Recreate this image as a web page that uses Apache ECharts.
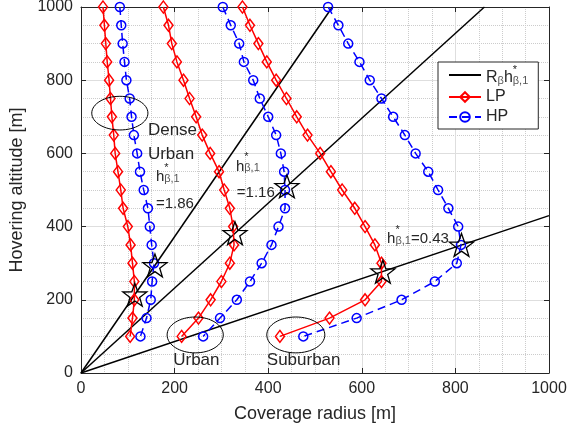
<!DOCTYPE html>
<html>
<head>
<meta charset="utf-8">
<script src="https://cdn.jsdelivr.net/npm/echarts@6/dist/echarts.min.js"></script>
<style>
  html, body { margin: 0; padding: 0; background: #fff; }
  #chart { width: 568px; height: 434px; }
</style>
</head>
<body>
<div id="chart"></div>
<script>
const FONT = "'Liberation Sans', Arial, sans-serif";
const INK = "#262626";

// hovering altitude [m], shared by every curve
const altitudes = [1000, 950, 900, 850, 800, 750, 700, 650, 600, 550, 500, 450, 400, 350, 300, 250, 200, 150, 100];

// coverage radius [m] per environment
const denseLP = [47, 50, 53, 56, 60, 63, 66, 70, 73, 79, 85, 90, 100, 106, 110, 114, 114, 110, 105];
const denseHP = [83, 86, 89, 93, 97, 104, 108, 113, 120, 126, 134, 143, 147, 151, 156, 152, 149, 140, 127];
const urbanLP = [176, 187, 194, 205, 219, 232, 246, 259, 276, 295, 306, 318, 325, 327, 318, 300, 277, 251, 215];
const urbanHP = [303, 320, 338, 348, 368, 382, 400, 417, 427, 434, 436, 436, 422, 407, 386, 361, 333, 297, 261];
const suburbanLP = [345, 361, 379, 397, 417, 439, 461, 484, 511, 534, 558, 585, 607, 628, 642, 642, 607, 531, 425];
const suburbanHP = [528, 550, 571, 595, 617, 642, 667, 692, 715, 742, 763, 785, 806, 812, 803, 756, 685, 589, 475];

// R = h / h*  lines, end points where they leave the box
const rayEndR = [537, 862, 1000];
const rayEndH = [1000, 1000, 430];

// optimum points (stars)
const starR = [115, 158, 329, 440, 645, 813];
const starH = [214, 294, 382, 510, 277, 350];

// annotations
const labelTexts = ["Dense", "Urban", "Urban", "Suburban"];
const labelR = [143, 143, 197, 397];
const labelH = [664, 598, 36, 36];
const hLabelR = [160, 331, 654];
const hLabelH = [546, 574, 377];
const hLabelTail = ["", "", "=0.43"];
const valueTexts = ["=1.86", "=1.16"];
const valueR = [160, 333];
const valueH = [462, 492];
const ellipseR = [83, 244, 459];
const ellipseH = [710, 104, 104];
const ellipseRx = [60, 60, 62];
const ellipseRy = [46, 49, 49];

// pentagram drawn near its final pixel size so the stroke is not scaled down
const STAR = "path://M12 0L14.82 8.12L23.41 8.29L16.56 13.48L19.05 21.71L12 16.8L4.95 21.71L7.44 13.48L0.59 8.29L9.18 8.12Z";
const CLEAR = "rgba(0,0,0,0)";

const richH = {
  m: { fontSize: 16, fontFamily: FONT, color: INK, lineHeight: 22, verticalAlign: "bottom" },
  p: { fontSize: 11, fontFamily: FONT, color: INK, lineHeight: 12, verticalAlign: "top", width: 0 },
  s: { fontSize: 11, fontFamily: FONT, color: "#555", lineHeight: 12, verticalAlign: "bottom" },
};

function curve(name, radii, color, symbol, size, dashed) {
  return {
    name,
    type: "line",
    data: radii.map((r, i) => [r, altitudes[i]]),
    symbol,
    symbolSize: size,
    showAllSymbol: true,
    lineStyle: { color, width: 1.5, type: dashed ? [8, 5] : "solid" },
    itemStyle: { color: CLEAR, borderColor: color, borderWidth: 1.5 },
    z: 3,
  };
}

function ray(i) {
  return {
    name: "Rh",
    type: "line",
    data: [[0, 0], [rayEndR[i], rayEndH[i]]],
    symbol: "circle",
    symbolSize: 1,
    showSymbol: false,
    lineStyle: { color: "#000", width: 1.5 },
    itemStyle: { color: CLEAR, borderColor: CLEAR, borderWidth: 0 },
    z: 2,
  };
}

function valueAxis(position, main) {
  return {
    type: "value",
    position,
    min: 0,
    max: 1000,
    interval: 200,
    axisLine: { show: true, onZero: false, lineStyle: { color: INK, width: 1 } },
    axisTick: { show: true, inside: true, length: 5, lineStyle: { color: INK } },
    minorTick: { show: false, splitNumber: 4 },
    axisLabel: { show: main, fontSize: 16, color: INK, fontFamily: FONT, margin: 8, formatter: (v) => String(v) },
    splitLine: { show: main, lineStyle: { color: "#dedede", width: 1 } },
    minorSplitLine: { show: main, lineStyle: { color: "#cccccc", width: 1, type: "dotted" } },
  };
}

const chart = echarts.init(document.getElementById("chart"));

const xMain = valueAxis("bottom", true);
xMain.name = "Coverage radius [m]";
xMain.nameLocation = "middle";
xMain.nameGap = 32;
xMain.nameTextStyle = { fontSize: 18, color: INK, fontFamily: FONT };

const yMain = valueAxis("left", true);
yMain.name = "Hovering altitude [m]";
yMain.nameLocation = "middle";
yMain.nameGap = 43;
yMain.nameTextStyle = { fontSize: 18, color: INK, fontFamily: FONT };

chart.setOption({
  animation: false,
  backgroundColor: "#fff",
  grid: { left: 81, right: 19, top: 7, bottom: 61, containLabel: false, outerBoundsMode: "none" },
  xAxis: [xMain, valueAxis("top", false)],
  yAxis: [yMain, valueAxis("right", false)],
  legend: {
    data: ["Rh", "LP", "HP"],
    orient: "vertical",
    left: 438,
    top: 62,
    backgroundColor: "#fff",
    borderColor: INK,
    borderWidth: 1,
    padding: [2, 10, 3, 10],
    itemGap: 2,
    itemWidth: 32,
    itemHeight: 12,
    formatter: (name) => (name === "Rh" ? "{m|R}{s|β}{m|h}{p|*}{s|β,1}" : name),
    textStyle: { fontSize: 16, color: INK, fontFamily: FONT, lineHeight: 18, rich: richH },
  },
  series: [
    ray(0), ray(1), ray(2),
    curve("LP", denseLP, "#ff0000", "diamond", [9, 12], false),
    curve("LP", urbanLP, "#ff0000", "diamond", [9, 12], false),
    curve("LP", suburbanLP, "#ff0000", "diamond", [9, 12], false),
    curve("HP", denseHP, "#0000ff", "circle", 9, true),
    curve("HP", urbanHP, "#0000ff", "circle", 9, true),
    curve("HP", suburbanHP, "#0000ff", "circle", 9, true),
    {
      name: "opt",
      type: "scatter",
      data: starR.map((r, i) => [r, starH[i]]),
      symbol: STAR,
      symbolSize: 24,
      symbolKeepAspect: true,
      itemStyle: { color: CLEAR, borderColor: "#000", borderWidth: 1.3, opacity: 1 },
      z: 5,
    },
  ],
});

// annotations placed from data coordinates
const toPx = (r, h) => chart.convertToPixel({ gridIndex: 0 }, [r, h]);
const graphics = [];

labelTexts.forEach((t, i) => {
  const [x, y] = toPx(labelR[i], labelH[i]);
  graphics.push({
    type: "text", x, y, z: 10,
    style: { text: t, fill: INK, fontSize: 17, fontFamily: FONT, align: "left", verticalAlign: "middle" },
  });
});

hLabelR.forEach((r, i) => {
  const [x, y] = toPx(r, hLabelH[i]);
  const tail = hLabelTail[i] ? "{m|" + hLabelTail[i] + "}" : "";
  graphics.push({
    type: "text", x, y, z: 10,
    style: {
      text: "{m|h}{p|*}{s|β,1}" + tail,
      rich: {
        m: { fontSize: 15, fontFamily: FONT, fill: INK, lineHeight: 22, verticalAlign: "bottom" },
        p: { fontSize: 11, fontFamily: FONT, fill: INK, lineHeight: 12, verticalAlign: "top", width: 0 },
        s: { fontSize: 11, fontFamily: FONT, fill: "#555", lineHeight: 12, verticalAlign: "bottom" },
      },
      align: "left",
      verticalAlign: "middle",
    },
  });
});

valueTexts.forEach((t, i) => {
  const [x, y] = toPx(valueR[i], valueH[i]);
  graphics.push({
    type: "text", x, y, z: 10,
    style: { text: t, fill: INK, fontSize: 15, fontFamily: FONT, align: "left", verticalAlign: "middle" },
  });
});

ellipseR.forEach((r, i) => {
  const [cx, cy] = toPx(r, ellipseH[i]);
  const [ex] = toPx(r + ellipseRx[i], ellipseH[i]);
  const [, ey] = toPx(r, ellipseH[i] + ellipseRy[i]);
  graphics.push({
    type: "ellipse", z: 10,
    shape: { cx, cy, rx: ex - cx, ry: cy - ey },
    style: { fill: "none", stroke: "#000", lineWidth: 1 },
  });
});

chart.setOption({ graphic: graphics });
</script>
</body>
</html>
